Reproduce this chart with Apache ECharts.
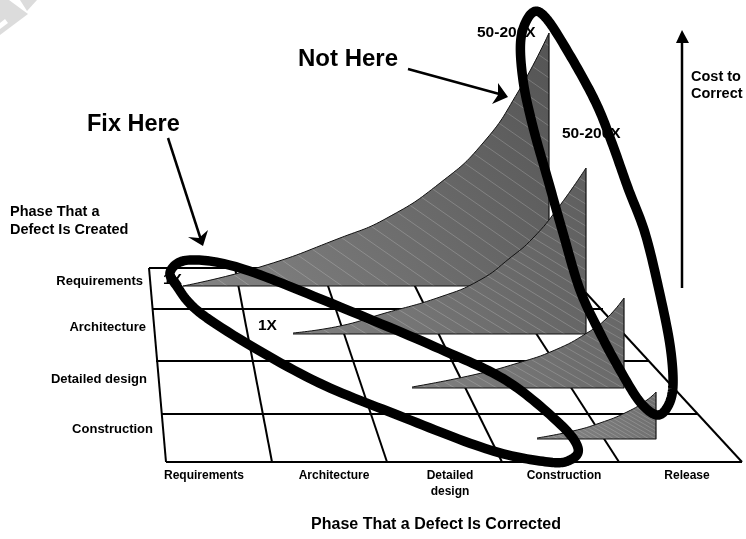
<!DOCTYPE html>
<html>
<head>
<meta charset="utf-8">
<script src="https://cdn.jsdelivr.net/npm/echarts@6/dist/echarts.min.js"></script>
<style>html,body{margin:0;padding:0;background:#fff}#chart{width:746px;height:539px}</style>
</head>
<body>
<div id="chart"></div>
<script>
// Floor grid of the phase matrix
const rowLines = [
  [[149, 268], [563, 268]],
  [[152, 309], [603, 309]],
  [[156, 361], [649, 361]],
  [[161, 414], [698, 414]],
  [[166, 462], [742, 462]]
];
const columnLines = [
  [[149, 268], [166, 462]],
  [[235, 268], [272, 462]],
  [[322, 268], [387, 462]],
  [[406, 268], [502, 462]],
  [[494, 268], [619, 462]],
  [[563, 268], [742, 462]]
];

// Cost curves: one per phase in which the defect is created
const curveRequirements = [[183, 286], [260, 267], [340, 238], [387, 218], [440, 183], [483, 143], [518, 92], [549, 33]];
const curveArchitecture = [[293, 333], [340, 326], [382, 314], [440, 297], [480, 280], [510, 258], [533, 238], [558, 208], [586, 168]];
const curveDetailedDesign = [[412, 387], [473, 375], [518, 363], [555, 350], [587, 333], [607, 318], [624, 298]];
const curveConstruction = [[537, 438], [573, 431], [600, 423], [627, 412], [647, 400], [656, 392]];

// Emphasis loops, listed as closed outlines
const loopFixHere = [[240, 268], [333, 304], [440, 349], [507, 381], [560, 424], [578, 448], [570, 460], [548, 462], [490, 450], [400, 416], [307, 377], [207, 318], [176, 285], [171, 270], [190, 260]];
const loopNotHere = [[596, 103], [612, 143], [628, 188], [645, 233], [659, 290], [670, 345], [673, 385], [668, 406], [657, 415], [640, 402], [620, 370], [600, 333], [580, 290], [563, 233], [548, 180], [533, 127], [523, 80], [521, 38], [532, 13], [546, 18], [571, 57]];

// Pointer arrows
const arrowShafts = [
  [[168, 138], [201, 240]],
  [[408, 69], [503, 95]],
  [[682, 288], [682, 40]]
];
const arrowHeads = [
  [[203, 246], [188, 237], [199, 238], [208, 230]],
  [[508, 97], [498, 83], [498, 95], [492, 104]],
  [[682, 30], [676, 43], [689, 43]]
];

// Watermark fragment in the corner
const cornerMarks = [
  [[0, 0], [9, 0], [28, 14], [0, 35]],
  [[20, 0], [37, 0], [27, 11]]
];
const cornerCutouts = [
  [[0, 23], [5, 19], [8, 23], [0, 29]]
];

const rowLabels = ['Requirements', 'Architecture', 'Detailed design', 'Construction'];
const rowLabelAnchors = [[143, 281], [146, 327], [147, 379], [153, 429]];
const columnLabels = ['Requirements', 'Architecture', 'Detailed\ndesign', 'Construction', 'Release'];
const columnLabelAnchors = [[204, 476], [334, 476], [450, 484], [564, 476], [687, 476]];
const costLabels = ['1X', '1X', '50-200X', '50-200X'];
const costLabelAnchors = [[163, 280], [258, 326], [477, 33], [562, 134]];

const FONT = '"Liberation Sans", Arial, sans-serif';

function hatchTile(w, h, alpha) {
  const c = document.createElement('canvas');
  c.width = w; c.height = h;
  const g = c.getContext('2d');
  g.strokeStyle = 'rgba(255,255,255,' + alpha + ')';
  g.lineWidth = 1;
  for (let i = -1; i <= 1; i++) {
    g.beginPath();
    g.moveTo((i - 1) * w, -h);
    g.lineTo((i + 2) * w, 2 * h);
    g.stroke();
  }
  return { image: c, repeat: 'repeat' };
}

function shade(from, to) {
  return new echarts.graphic.LinearGradient(0, 1, 1, 0, [
    { offset: 0, color: from },
    { offset: 1, color: to }
  ]);
}

// Rounds a closed outline into a fine polyline using a Catmull-Rom spline
function closedSpline(points) {
  const out = [];
  const n = points.length;
  for (let i = 0; i < n; i++) {
    const p0 = points[(i - 1 + n) % n], p1 = points[i], p2 = points[(i + 1) % n], p3 = points[(i + 2) % n];
    for (let s = 0; s < 16; s++) {
      const t = s / 16, t2 = t * t, t3 = t2 * t;
      out.push([0, 1].map(function (k) {
        return 0.5 * (2 * p1[k] + (p2[k] - p0[k]) * t + (2 * p0[k] - 5 * p1[k] + 4 * p2[k] - p3[k]) * t2 + (3 * p1[k] - p0[k] - 3 * p2[k] + p3[k]) * t3);
      }));
    }
  }
  out.push(out[0]);
  return out;
}

let z = 1;
const series = [];

function pathSeries(data, opts) {
  series.push(Object.assign({
    type: 'line', data, z: z++, symbol: 'none', silent: true, animation: false, clip: false,
    lineStyle: { color: '#000', width: 2 }
  }, opts));
}

function polygonSeries(shapes, fill) {
  series.push({
    type: 'custom', z: z++, silent: true, animation: false, clip: false,
    coordinateSystem: 'cartesian2d',
    encode: { x: 0, y: 1 },
    data: shapes.map(function (s, i) { return [s[0][0], s[0][1], i]; }),
    renderItem: function (params, api) {
      return {
        type: 'polygon',
        shape: { points: shapes[api.value(2)].map(function (p) { return api.coord(p); }) },
        style: { fill: fill }
      };
    }
  });
}

function loopSeries(outline, width) {
  const fine = closedSpline(outline);
  series.push({
    type: 'custom', z: z++, silent: true, animation: false, clip: false,
    coordinateSystem: 'cartesian2d',
    encode: { x: 0, y: 1 },
    data: [outline[0]],
    renderItem: function (params, api) {
      return {
        type: 'polyline',
        shape: { points: fine.map(function (p) { return api.coord(p); }) },
        style: { fill: null, stroke: '#000', lineWidth: width, lineJoin: 'round', lineCap: 'round' }
      };
    }
  });
}

function textSeries(texts, anchors, font, align) {
  series.push({
    type: 'custom', z: z++, silent: true, animation: false, clip: false,
    coordinateSystem: 'cartesian2d',
    encode: { x: 0, y: 1 },
    data: anchors.map(function (a, i) { return [a[0], a[1], i]; }),
    renderItem: function (params, api) {
      const pt = api.coord([api.value(0), api.value(1)]);
      return {
        type: 'text', x: pt[0], y: pt[1],
        style: {
          text: texts[api.value(2)], font: font, fill: '#000',
          align: align, verticalAlign: 'middle', lineHeight: 16
        }
      };
    }
  });
}

function addCurve(points, from, to, tile) {
  const last = points[points.length - 1];
  const base = points[0][1] + (points === curveRequirements ? 0 : 1);
  const front = [[points[0][0], base], [last[0], base], last];
  const areaOpts = { lineStyle: { width: 0 }, smooth: 0.5 };
  // Area under the curve down to the curve's own baseline, then its hatching
  pathSeries(points, Object.assign({ areaStyle: { origin: base, color: shade(from, to), opacity: 1 } }, areaOpts));
  pathSeries(points, Object.assign({ areaStyle: { origin: base, color: tile, opacity: 1 } }, areaOpts));
  pathSeries(points, { smooth: 0.5, lineStyle: { color: '#111', width: 1 } });
  pathSeries(front, { lineStyle: { color: '#111', width: 1.2 } });
}

polygonSeries(cornerMarks, '#dcdcdc');
polygonSeries(cornerCutouts, '#ffffff');

rowLines.concat(columnLines).forEach(function (l) { pathSeries(l); });

addCurve(curveRequirements, '#848484', '#545454', hatchTile(23, 16, 0.2));
addCurve(curveArchitecture, '#808080', '#5e5e5e', hatchTile(18, 11, 0.2));
addCurve(curveDetailedDesign, '#808080', '#666666', hatchTile(14, 8, 0.18));
addCurve(curveConstruction, '#868686', '#6e6e6e', hatchTile(7, 4, 0.18));

textSeries(rowLabels, rowLabelAnchors, 'bold 13px ' + FONT, 'right');
textSeries(columnLabels, columnLabelAnchors, 'bold 12px ' + FONT, 'center');
textSeries(costLabels, costLabelAnchors, 'bold 15.5px ' + FONT, 'left');
textSeries(['Not Here'], [[298, 59]], 'bold 24px ' + FONT, 'left');
textSeries(['Fix Here'], [[87, 125]], 'bold 23.5px ' + FONT, 'left');
textSeries(['Phase That a', 'Defect Is Created'], [[10, 212], [10, 230]], 'bold 14.5px ' + FONT, 'left');
textSeries(['Cost to', 'Correct'], [[691, 77], [691, 94]], 'bold 14.5px ' + FONT, 'left');
textSeries(['Phase That a Defect Is Corrected'], [[436, 525]], 'bold 16px ' + FONT, 'center');

arrowShafts.forEach(function (l) { pathSeries(l, { lineStyle: { color: '#000', width: 2.5 } }); });
polygonSeries(arrowHeads, '#000');

loopSeries(loopFixHere, 9.5);
loopSeries(loopNotHere, 9.5);

const chart = echarts.init(document.getElementById('chart'), null, { renderer: 'canvas' });
chart.setOption({
  animation: false,
  backgroundColor: '#fff',
  grid: { left: 0, right: 0, top: 0, bottom: 0 },
  xAxis: { type: 'value', min: 0, max: 746, show: false },
  yAxis: { type: 'value', min: 0, max: 539, inverse: true, show: false },
  series: series
});
</script>
</body>
</html>
